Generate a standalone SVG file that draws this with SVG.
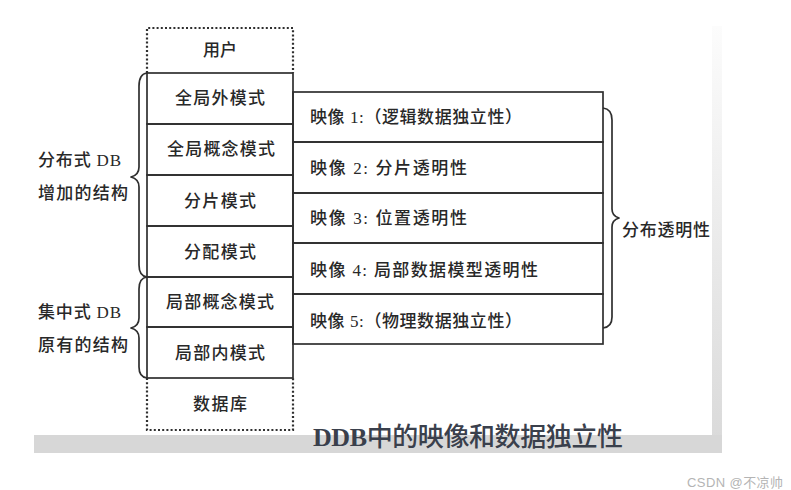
<svg xmlns="http://www.w3.org/2000/svg" width="791" height="490" viewBox="0 0 791 490">
<defs>
<linearGradient id="strip" x1="0" y1="0" x2="0" y2="1">
<stop offset="0" stop-color="#fcfcfc"/>
<stop offset="1" stop-color="#d9d9d9"/>
</linearGradient>
<style>
.ln{fill:none;stroke:#2f2f2f;stroke-width:1.7}
.dot{fill:none;stroke:#2f2f2f;stroke-width:2.2;stroke-dasharray:2 2.2}
.br{fill:none;stroke:#2f2f2f;stroke-width:1.7;stroke-linejoin:round}
.t{font-family:"Noto Sans CJK SC","Liberation Sans",sans-serif;font-size:17px;font-weight:500;fill:#282828}
.c{text-anchor:middle}
.m{font-family:"Liberation Serif","Noto Sans CJK SC",serif;font-size:17px;fill:#282828}
</style>
</defs>
<rect width="791" height="490" fill="#fff"/>
<rect x="712" y="26" width="10" height="427" fill="url(#strip)"/>
<rect x="34" y="435" width="688" height="18" fill="#d7d7d7"/>

<g id="user">
<path class="dot" d="M147,73 V28 H293 V73"/>
<text class="t c" x="220" y="56">用户</text>
</g>
<g id="global-external">
<rect class="ln" x="147" y="73" width="146" height="51"/>
<text class="t c" x="220" y="104" textLength="90">全局外模式</text>
</g>
<g id="global-concept">
<rect class="ln" x="147" y="124" width="146" height="51"/>
<text class="t c" x="221" y="155" textLength="108">全局概念模式</text>
</g>
<g id="fragment">
<rect class="ln" x="147" y="175" width="146" height="51"/>
<text class="t c" x="220" y="207" textLength="72">分片模式</text>
</g>
<g id="allocation">
<rect class="ln" x="147" y="226" width="146" height="51"/>
<text class="t c" x="220" y="258" textLength="72">分配模式</text>
</g>
<g id="local-concept">
<rect class="ln" x="147" y="277" width="146" height="50"/>
<text class="t c" x="220" y="308" textLength="108">局部概念模式</text>
</g>
<g id="local-internal">
<rect class="ln" x="147" y="327" width="146" height="51"/>
<text class="t c" x="220" y="359" textLength="90">局部内模式</text>
</g>
<g id="database">
<path class="dot" d="M147,378 V430 H293 V378"/>
<text class="t c" x="220" y="410" textLength="54">数据库</text>
</g>

<g id="map1">
<rect class="ln" x="293" y="92" width="310" height="50"/>
<text class="m" x="310" y="123" textLength="212"><tspan class="t">映像</tspan> 1:<tspan class="t">（逻辑数据独立性）</tspan></text>
</g>
<g id="map2">
<rect class="ln" x="293" y="142" width="310" height="51"/>
<text class="m" x="310" y="174" textLength="157"><tspan class="t">映像</tspan> 2: <tspan class="t">分片透明性</tspan></text>
</g>
<g id="map3">
<rect class="ln" x="293" y="193" width="310" height="50"/>
<text class="m" x="310" y="224" textLength="157"><tspan class="t">映像</tspan> 3: <tspan class="t">位置透明性</tspan></text>
</g>
<g id="map4">
<rect class="ln" x="293" y="243" width="310" height="51"/>
<text class="m" x="310" y="276" textLength="228"><tspan class="t">映像</tspan> 4: <tspan class="t">局部数据模型透明性</tspan></text>
</g>
<g id="map5">
<rect class="ln" x="293" y="294" width="310" height="50"/>
<text class="m" x="310" y="327" textLength="212"><tspan class="t">映像</tspan> 5:<tspan class="t">（物理数据独立性）</tspan></text>
</g>

<g id="connectors">
<path class="br" d="M147,73 Q139,74 139,86 V167 Q139,175 131,177 Q139,179 139,187 V265 Q139,276 147,277"/>
<path class="br" d="M147,277 Q139,278 139,289 V318 Q139,326 131,328 Q139,330 139,338 V367 Q139,377 147,378"/>
<path class="br" d="M603,108 Q612,109 612,120 V209 Q612,216 619,218 Q612,220 612,227 V317 Q612,327 603,328"/>
</g>

<g id="labels">
<text class="m" x="38" y="166" textLength="83"><tspan class="t">分布式</tspan> DB</text>
<text class="t" x="38" y="199" textLength="90">增加的结构</text>
<text class="m" x="38" y="318" textLength="83"><tspan class="t">集中式</tspan> DB</text>
<text class="t" x="38" y="351" textLength="90">原有的结构</text>
<text class="t" x="622" y="236" textLength="88">分布透明性</text>
</g>

<text x="313" y="446" textLength="310" font-family="Liberation Serif, serif" font-size="26" font-weight="bold" fill="#3a404c">DDB<tspan font-family="Noto Sans CJK SC, sans-serif" font-weight="500">中的映像和数据独立性</tspan></text>
<text x="687" y="487" textLength="96" font-family="Liberation Sans, Noto Sans CJK SC, sans-serif" font-size="13" fill="#b4b4b4">CSDN @不凉帅</text>
</svg>
